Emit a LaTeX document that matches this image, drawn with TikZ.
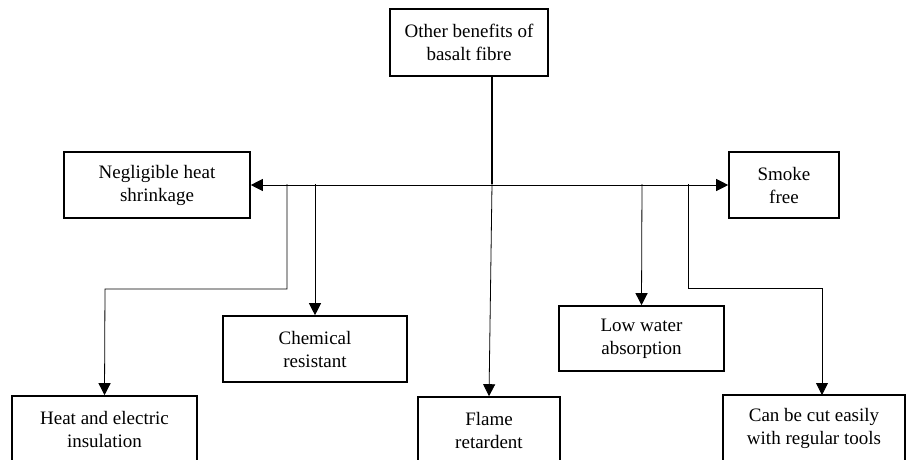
\documentclass[tikz,border=0pt]{standalone}
\usepackage{fontspec}
\setmainfont{Liberation Serif}
\usetikzlibrary{arrows.meta}
\begin{document}
\begin{tikzpicture}[x=1pt,y=-1pt,
  box/.style={draw,line width=1.6pt,inner sep=0pt,align=center,
    font=\fontsize{19}{23}\selectfont},
  conn/.style={line width=0.8pt},
  arr/.style={conn,-{Triangle[length=12pt,width=12pt]}}]
\useasboundingbox (0,0) rectangle (908,459);
\node[box,minimum width=158pt,minimum height=67pt] (top) at (469,42.5) {Other benefits of\\basalt fibre};
\node[box,minimum width=186pt,minimum height=66pt] (neg) at (157,185) {Negligible heat\\shrinkage};
\node[box,minimum width=110pt,minimum height=66pt] (smoke) at (784,185) {Smoke\\free};
\node[box,minimum width=185pt,minimum height=66pt] (heat) at (104.5,429) {Heat and electric\\insulation};
\node[box,minimum width=184pt,minimum height=66pt] (chem) at (315,349) {Chemical\\resistant};
\node[box,minimum width=165pt,minimum height=65pt] (low) at (641.5,338.5) {Low water\\absorption};
\node[box,minimum width=142pt,minimum height=66pt] (flame) at (489,430) {Flame\\retardent};
\node[box,minimum width=182pt,minimum height=66pt] (cut) at (814,428) {Can be cut easily\\with regular tools};
% hub coordinates
\coordinate (topout) at (492,76);
\coordinate (hub) at (492,184);
\coordinate (jheat) at (287,184);
\coordinate (jchem) at (315,184);
\coordinate (jlow) at (642,184);
\coordinate (jcut) at (688,184);
\coordinate (eheat1) at (287,289);
\coordinate (eheat2) at (105,289);
\coordinate (ecut1) at (688,288);
\coordinate (ecut2) at (822,288);
\coordinate (cuttop) at (822,395);
\draw[line width=1.2pt] (topout) -- (hub);
\draw[conn,{Triangle[length=12pt,width=12pt]}-{Triangle[length=12pt,width=12pt]}] (neg.east) -- (smoke.west);
\draw[arr] (hub) -- (flame.north);
\draw[arr] (jchem) -- (chem.north);
\draw[arr] (jlow) -- (low.north);
\draw[arr] (jheat) -- (eheat1) -- (eheat2) -- (heat.north);
\draw[arr] (jcut) -- (ecut1) -- (ecut2) -- (cuttop);
\end{tikzpicture}
\end{document}
